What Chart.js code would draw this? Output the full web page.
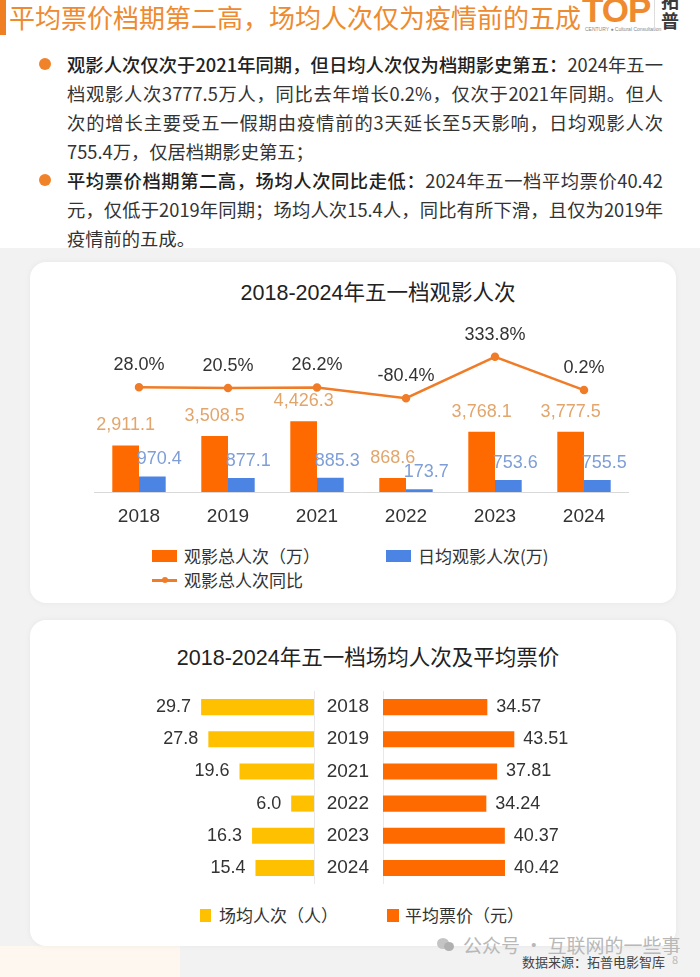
<!DOCTYPE html>
<html>
<head>
<meta charset="utf-8">
<script src="https://cdn.jsdelivr.net/npm/chart.js@4.4.1/dist/chart.umd.min.js"></script>
<style>
  body { margin: 0; width: 700px; height: 977px; position: relative; overflow: hidden; background: #fff;
         font-family: 'Noto Sans CJK SC', sans-serif; color: #333; }
  .abs { position: absolute; white-space: nowrap; }
  .card { position: absolute; left: 30px; width: 646px; background: #fff; border-radius: 16px;
          box-shadow: 0 0 6px rgba(0,0,0,0.05); }
  .bul p { margin: 0; width: 596px; text-align: justify; text-align-last: justify; }
  .bul p.last { text-align-last: left; }
  .bul b { font-weight: 500; color: #222; }
  .dot { position: absolute; width: 12px; height: 12px; border-radius: 50%; background: #f0822a; }
  .leg { position: absolute; font-size: 17px; line-height: 24px; color: #333; white-space: nowrap; }
  .ttl { position: absolute; transform: translate(-50%, -50%); font-family: 'Liberation Sans', 'Noto Sans CJK SC', sans-serif;
         font-size: 21.5px; line-height: 28px; color: #222; white-space: nowrap; }
  canvas { position: absolute; }
</style>
</head>
<body>
<!-- header -->
<div class="abs" style="left:0;top:0;width:6px;height:35px;background:#f07f22;"></div>
<div class="abs" style="left:9px;top:0;font-size:26px;line-height:34px;color:#ee8a2f;">平均票价档期第二高，场均人次仅为疫情前的五成</div>
<div class="abs" style="left:582px;top:-9px;font:bold 35px/38px 'Liberation Sans',sans-serif;color:#f08a2e;letter-spacing:-1px;">TOP</div>
<div class="abs" style="left:585px;top:26px;font:5px/6px 'Liberation Sans',sans-serif;color:#888;">CENTURY ● Cultural Consultation</div>
<div class="abs" style="left:654px;top:0;width:1px;height:30px;background:#ddd;"></div>
<div class="abs" style="left:661px;top:-10px;font-size:18px;line-height:20px;font-weight:700;color:#3a3a3a;">拓<br>普</div>

<!-- bullets -->
<div class="dot" style="left:39px;top:58px;"></div>
<div class="abs bul" style="left:67px;top:49.5px;font-size:18.3px;line-height:29px;">
  <p><b>观影人次仅次于2021年同期，但日均人次仅为档期影史第五：</b>2024年五一</p>
  <p>档观影人次3777.5万人，同比去年增长0.2%，仅次于2021年同期。但人</p>
  <p>次的增长主要受五一假期由疫情前的3天延长至5天影响，日均观影人次</p>
  <p class="last">755.4万，仅居档期影史第五；</p>
</div>
<div class="dot" style="left:39px;top:174px;"></div>
<div class="abs bul" style="left:67px;top:165.5px;font-size:18.3px;line-height:29px;">
  <p><b>平均票价档期第二高，场均人次同比走低：</b>2024年五一档平均票价40.42</p>
  <p>元，仅低于2019年同期；场均人次15.4人，同比有所下滑，且仅为2019年</p>
  <p class="last">疫情前的五成。</p>
</div>

<!-- background + cards -->
<div class="abs" style="left:0;top:248px;width:700px;height:729px;background:#f2f2f2;"></div>
<div class="abs" style="left:0;top:946px;width:180px;height:31px;background:#fdf7ef;"></div>
<div class="card" style="top:262px;height:341px;"></div>
<div class="card" style="top:620px;height:326px;"></div>

<!-- chart 1 -->
<div class="ttl" style="left:378px;top:293px;">2018-2024年五一档观影人次</div>
<canvas id="c1" width="547" height="210" style="left:88px;top:319px;"></canvas>
<div class="abs" style="left:152px;top:550px;width:25px;height:12px;background:#ff6a00;"></div>
<div class="leg" style="left:184px;top:544px;">观影总人次（万）</div>
<div class="abs" style="left:386px;top:550px;width:25px;height:12px;background:#4c84e4;"></div>
<div class="leg" style="left:418px;top:544px;">日均观影人次(万)</div>
<div class="abs" style="left:152px;top:579px;width:25px;height:2.5px;background:#f07c28;"></div>
<div class="abs" style="left:161.5px;top:577px;width:6px;height:6px;border-radius:50%;background:#f07c28;"></div>
<div class="leg" style="left:184px;top:568px;">观影总人次同比</div>

<!-- chart 2 -->
<div class="ttl" style="left:368px;top:658px;">2018-2024年五一档场均人次及平均票价</div>
<canvas id="c2" width="176" height="193" style="left:139px;top:691px;"></canvas>
<canvas id="c3" width="270" height="193" style="left:314px;top:691px;"></canvas>
<div class="abs" style="left:200px;top:909px;width:11px;height:13px;background:#ffc000;"></div>
<div class="leg" style="left:219px;top:903px;">场均人次（人）</div>
<div class="abs" style="left:387px;top:909px;width:12px;height:13px;background:#ff6a00;"></div>
<div class="leg" style="left:405px;top:903px;">平均票价（元）</div>

<!-- footer -->
<div class="abs" style="left:437px;top:938px;width:12px;height:11px;border-radius:50%;background:#c4c4c4;"></div>
<div class="abs" style="left:444px;top:942px;width:10px;height:9px;border-radius:50%;background:#b0b0b0;"></div>
<div class="abs" style="left:463px;top:931px;font-size:19px;line-height:28px;color:#b8b8b8;">公众号 · 互联网的一些事</div>
<div class="abs" style="left:522px;top:953px;font-size:13px;line-height:18px;color:#444;">数据来源：拓普电影智库</div>
<div class="abs" style="left:672px;top:952px;font-size:11px;line-height:14px;color:#bbb;">8</div>

<script>
const years = ["2018", "2019", "2021", "2022", "2023", "2024"];
const totalViewers = [2911.1, 3508.5, 4426.3, 868.6, 3768.1, 3777.5];
const dailyViewers = [970.4, 877.1, 885.3, 173.7, 753.6, 755.5];
const yoyGrowth = [28.0, 20.5, 26.2, -80.4, 333.8, 0.2];
const avgAttendance = [29.7, 27.8, 19.6, 6.0, 16.3, 15.4];
const avgPrice = [34.57, 43.51, 37.81, 34.24, 40.37, 40.42];

Chart.defaults.font.family = "'Liberation Sans', 'Noto Sans CJK SC', sans-serif";
Chart.defaults.animation = false;

// draws value text next to each element, styles keyed by dataset index
function makeLabels(styles) {
  return {
    id: "valueLabels",
    afterDatasetsDraw(chart) {
      const ctx = chart.ctx;
      ctx.save();
      ctx.textBaseline = "middle";
      chart.data.datasets.forEach((ds, i) => {
        const st = styles[i];
        if (!st) return;
        ctx.font = st.font;
        ctx.fillStyle = st.color;
        ctx.textAlign = st.align || "center";
        chart.getDatasetMeta(i).data.forEach((el, j) => {
          ctx.fillText(st.format(ds.data[j]), el.x + (st.dx || 0), el.y + (st.dy || 0));
        });
      });
      ctx.restore();
    },
  };
}

// category names drawn in the gap left of the price bars
const yearLabels = {
  id: "yearLabels",
  afterDraw(chart) {
    const ctx = chart.ctx;
    const sc = chart.scales.y;
    ctx.save();
    ctx.font = "19px 'Liberation Sans', sans-serif";
    ctx.fillStyle = "#333";
    ctx.textAlign = "right";
    ctx.textBaseline = "middle";
    chart.data.labels.forEach((lab, i) => {
      ctx.fillText(lab, chart.chartArea.left - 14, sc.getPixelForValue(i));
    });
    ctx.restore();
  },
};

const numFont = "18px 'Liberation Sans', sans-serif";

new Chart(document.getElementById("c1"), {
  type: "bar",
  data: {
    labels: years,
    datasets: [
      {
        type: "line",
        label: "观影总人次同比",
        data: yoyGrowth,
        yAxisID: "y2",
        borderColor: "#f07c28",
        backgroundColor: "#f07c28",
        borderWidth: 2.5,
        pointRadius: 3,
        tension: 0,
        order: 0,
      },
      {
        label: "观影总人次（万）",
        data: totalViewers,
        backgroundColor: "#ff6a00",
        categoryPercentage: 0.6,
        barPercentage: 1,
        order: 1,
      },
      {
        label: "日均观影人次(万)",
        data: dailyViewers,
        backgroundColor: "#4c84e4",
        categoryPercentage: 0.6,
        barPercentage: 1,
        order: 1,
      },
    ],
  },
  options: {
    responsive: false,
    layout: { padding: 0 },
    plugins: { legend: { display: false }, tooltip: { enabled: false } },
    scales: {
      x: {
        grid: { display: false, drawTicks: false },
        border: { color: "#d9d9d9" },
        ticks: { color: "#333", font: { size: 19 }, padding: 13 },
        afterFit: (s) => { s.height = 37; },
      },
      y: { display: false, min: 0, max: 10420 },
      y2: { display: false, min: -1020, max: 647 },
    },
  },
  plugins: [
    makeLabels({
      0: { font: numFont, color: "#333", dy: -22, format: (v) => v.toFixed(1) + "%" },
      1: { font: numFont, color: "#e2a56c", dy: -20,
           format: (v) => v.toLocaleString("en-US", { minimumFractionDigits: 1, maximumFractionDigits: 1 }) },
      2: { font: numFont, color: "#7f9ed8", dx: 7, dy: -17, format: (v) => v.toFixed(1) },
    }),
  ],
});

// left half: attendance, bars grow leftwards
new Chart(document.getElementById("c2"), {
  type: "bar",
  data: {
    labels: years,
    datasets: [{ label: "场均人次（人）", data: avgAttendance, backgroundColor: "#ffc000",
                 barPercentage: 0.5, categoryPercentage: 1 }],
  },
  options: {
    indexAxis: "y",
    responsive: false,
    layout: { padding: 0, autoPadding: false },
    plugins: { legend: { display: false }, tooltip: { enabled: false } },
    scales: {
      x: { display: false, reverse: true, min: 0, max: 46.05 },
      y: {
        position: "right",
        grid: { display: false, drawTicks: false },
        border: { color: "#e8e8e8" },
        ticks: { display: false },
        afterFit: (s) => { s.width = 1; },
      },
    },
  },
  plugins: [makeLabels({ 0: { font: numFont, color: "#333", align: "right", dx: -10, format: (v) => v.toFixed(1) } })],
});

// right half: ticket price, year labels sit in the axis gap
new Chart(document.getElementById("c3"), {
  type: "bar",
  data: {
    labels: years,
    datasets: [{ label: "平均票价（元）", data: avgPrice, backgroundColor: "#ff6a00",
                 barPercentage: 0.5, categoryPercentage: 1 }],
  },
  options: {
    indexAxis: "y",
    responsive: false,
    layout: { padding: 0, autoPadding: false },
    plugins: { legend: { display: false }, tooltip: { enabled: false } },
    scales: {
      x: { display: false, min: 0, max: 66.6 },
      y: {
        position: "left",
        grid: { display: false, drawTicks: false },
        border: { color: "#e8e8e8" },
        ticks: { display: false },
        afterFit: (s) => { s.width = 69; },
      },
    },
  },
  plugins: [
    makeLabels({ 0: { font: numFont, color: "#333", align: "left", dx: 9, format: (v) => v.toFixed(2) } }),
    yearLabels,
  ],
});
</script>
</body>
</html>
